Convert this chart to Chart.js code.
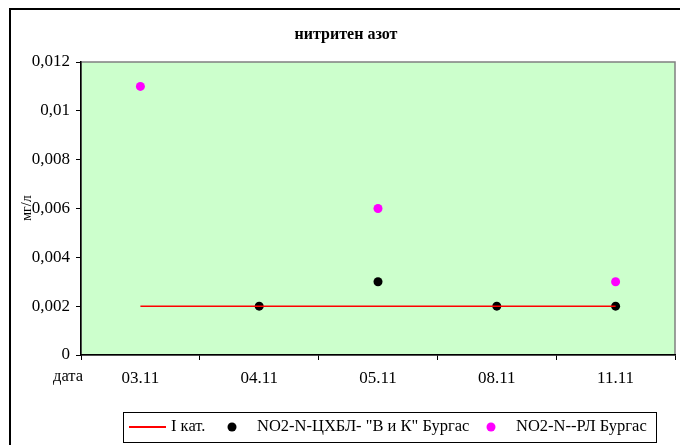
<!DOCTYPE html>
<html>
<head>
<meta charset="utf-8">
<script src="https://cdn.jsdelivr.net/npm/chart.js@4.4.0/dist/chart.umd.min.js"></script>
<style>
  html, body { margin: 0; padding: 0; background: #fff; }
  #wrap { width: 680px; height: 445px; position: relative; }
</style>
</head>
<body>
<div id="wrap"><canvas id="nitrite"></canvas></div>
<script>
const dates = ['03.11', '04.11', '05.11', '08.11', '11.11'];
const limitCat1 = [0.002, 0.002, 0.002, 0.002, 0.002];
const labVK = [null, 0.002, 0.003, 0.002, 0.002];
const labRL = [0.011, null, 0.006, null, 0.003];
const yTicks = [0, 0.002, 0.004, 0.006, 0.008, 0.01, 0.012];

const serif = '"Liberation Serif", "Times New Roman", serif';
Chart.defaults.font.family = serif;
Chart.defaults.color = '#000';

// green plot background + grey frame, like the old Excel sheet
const plotBack = {
    id: 'plotBack',
    beforeDraw(chart) {
        const { ctx, chartArea: a } = chart;
        ctx.save();
        ctx.fillStyle = '#ccffcc';
        ctx.fillRect(a.left, a.top, a.right - a.left, a.bottom - a.top);
        ctx.strokeStyle = '#808080';
        ctx.lineWidth = 1.5;
        ctx.strokeRect(a.left, a.top, a.right - a.left, a.bottom - a.top);
        ctx.restore();
    }
};

// title, axis captions, boxed legend and outer frame
const extras = {
    id: 'extras',
    afterDraw(chart) {
        const { ctx } = chart;
        ctx.save();
        ctx.strokeStyle = '#000';
        ctx.lineWidth = 2;
        ctx.strokeRect(10, 9, 700, 470);

        ctx.fillStyle = '#000';
        ctx.textAlign = 'center';
        ctx.textBaseline = 'middle';
        ctx.font = 'bold 16px ' + serif;
        ctx.fillText('нитритен азот', 346, 35);

        ctx.font = '16.5px ' + serif;
        ctx.fillText('дата', 68, 377);

        ctx.save();
        ctx.translate(27, 208);
        ctx.rotate(-Math.PI / 2);
        ctx.font = '14px ' + serif;
        ctx.fillText('мг/л', 0, 0);
        ctx.restore();

        // legend
        ctx.lineWidth = 1;
        ctx.strokeRect(123.5, 412.5, 533, 30);
        const ly = 427;
        const ds = chart.data.datasets;
        ctx.font = '16.5px ' + serif;
        ctx.textAlign = 'left';
        ctx.strokeStyle = ds[0].borderColor;
        ctx.lineWidth = 2;
        ctx.beginPath();
        ctx.moveTo(129, ly);
        ctx.lineTo(166, ly);
        ctx.stroke();
        ctx.fillText(ds[0].label, 171, ly);
        [[ds[1], 232, 257], [ds[2], 491, 516]].forEach(([d, px, tx]) => {
            ctx.fillStyle = d.backgroundColor;
            ctx.beginPath();
            ctx.arc(px, ly, 4.5, 0, Math.PI * 2);
            ctx.fill();
            ctx.fillStyle = '#000';
            ctx.fillText(d.label, tx, ly);
        });
        ctx.restore();
    }
};

new Chart(document.getElementById('nitrite'), {
    type: 'line',
    data: {
        labels: dates,
        datasets: [{
            label: 'I кат.',
            data: limitCat1,
            borderColor: '#ff0000',
            borderWidth: 1.5,
            pointRadius: 0,
            fill: false
        }, {
            label: 'NO2-N-ЦХБЛ- "В и К" Бургас',
            data: labVK,
            showLine: false,
            backgroundColor: '#000000',
            borderWidth: 0,
            pointRadius: 4.5
        }, {
            label: 'NO2-N--РЛ Бургас',
            data: labRL,
            showLine: false,
            backgroundColor: '#ff00ff',
            borderWidth: 0,
            pointRadius: 4.5
        }]
    },
    options: {
        responsive: true,
        maintainAspectRatio: false,
        animation: false,
        layout: { padding: { top: 62, right: 5, left: 0, bottom: 0 } },
        plugins: {
            legend: { display: false },
            title: { display: false },
            tooltip: { enabled: false }
        },
        scales: {
            x: {
                offset: true,
                afterFit: s => { s.height = 90; },
                grid: { offset: true, drawOnChartArea: false, tickLength: 5, color: '#000' },
                border: { color: '#000', width: 1.5 },
                ticks: { font: { size: 17 }, padding: 8, maxRotation: 0 }
            },
            y: {
                min: 0,
                max: 0.012,
                afterFit: s => { s.width = 81; },
                afterBuildTicks: s => { s.ticks = yTicks.map(v => ({ value: v })); },
                grid: { drawOnChartArea: false, tickLength: 5, color: '#000' },
                border: { color: '#000', width: 1.5 },
                ticks: {
                    font: { size: 17 },
                    padding: 6,
                    callback: v => String(+v.toFixed(3)).replace('.', ',')
                }
            }
        }
    },
    plugins: [plotBack, extras]
});
</script>
</body>
</html>
